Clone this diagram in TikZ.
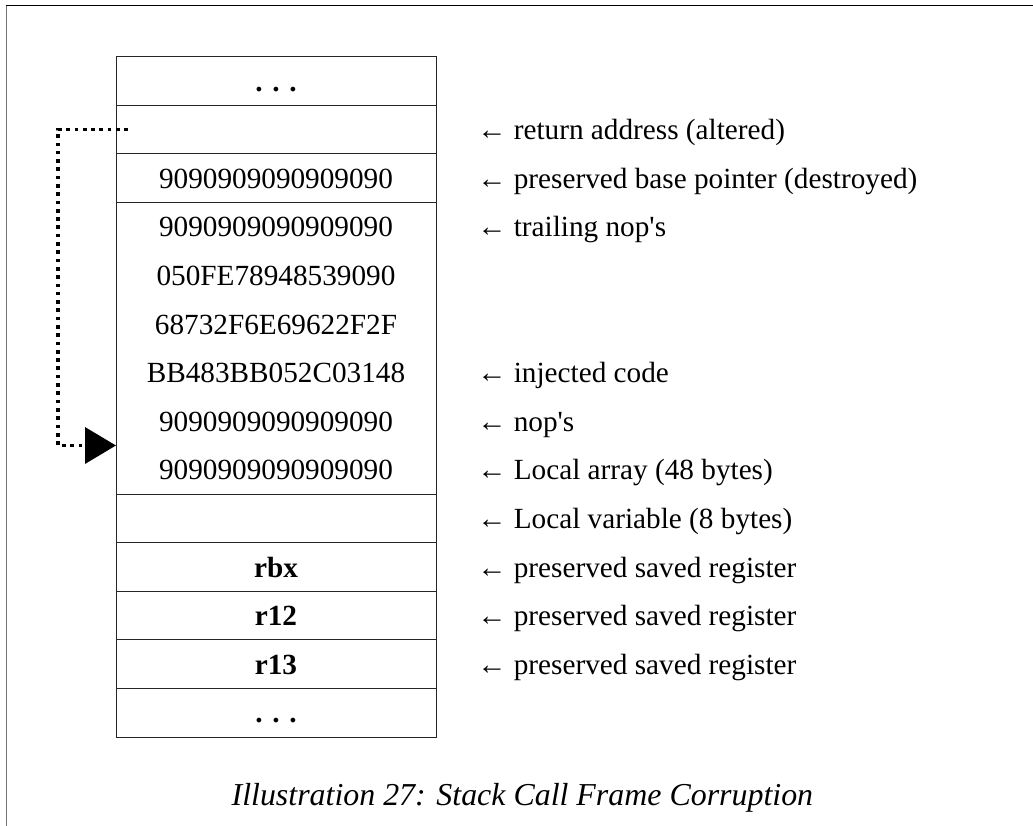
\documentclass[tikz,border=0pt]{standalone}
\usepackage{fontspec}
\setmainfont{Liberation Serif}
\usetikzlibrary{arrows.meta,positioning,fit,calc}

\begin{document}
\begin{tikzpicture}[every node/.style={font=\fontsize{20.8}{25}\selectfont},
    cell/.style={minimum width=8cm, minimum height=1.215cm, inner sep=0pt,
                 outer sep=0pt, text height=14.35pt, text depth=0pt},
    slot/.style={cell, draw=black!85, line width=0.6pt},
    note/.style={anchor=west, inner sep=0pt, text height=14.35pt, text depth=0pt}]

    \useasboundingbox (0,0) rectangle (25.825,-20.65);

    % ---- frame ----
    \draw[black!55, line width=0.7pt] (0.15,-20.65) -- (0.15,-0.125);
    \draw[black, line width=0.7pt] (0.15,-0.125) -- (25.825,-0.125);

    % ---- stack rows ----
    \node[slot] (top) at (6.9,-2.025) {\textbf{. . .}};
    \node[slot, below=0pt of top] (ret) {};
    \node[slot, below=0pt of ret] (rbp) {9090909090909090};
    \node[cell, below=0pt of rbp] (trail) {9090909090909090};
    \node[cell, below=0pt of trail] (hexa) {050FE78948539090};
    \node[cell, below=0pt of hexa] (hexb) {68732F6E69622F2F};
    \node[cell, below=0pt of hexb] (inj) {BB483BB052C03148};
    \node[cell, below=0pt of inj] (nop) {9090909090909090};
    \node[cell, below=0pt of nop] (arr) {9090909090909090};
    \node[draw=black!85, line width=0.6pt, fit=(trail)(arr), inner sep=0pt] (payload) {};
    \node[slot, below=0pt of arr] (lvar) {};
    \node[slot, below=0pt of lvar] (rbx) {\textbf{rbx}};
    \node[slot, below=0pt of rbx] (rtw) {\textbf{r12}};
    \node[slot, below=0pt of rtw] (rth) {\textbf{r13}};
    \node[slot, below=0pt of rth] (bottom) {\textbf{. . .}};

    % ---- labels ----
    \coordinate (labx) at (11.925,0);
    \node[note] (l-ret)   at (ret -| labx)   {← return address (altered)};
    \node[note] (l-rbp)   at (rbp -| labx)   {← preserved base pointer (destroyed)};
    \node[note] (l-trail) at (trail -| labx) {← trailing nop\textquotesingle s};
    \node[note] (l-inj)   at (inj -| labx)   {← injected code};
    \node[note] (l-nop)   at (nop -| labx)   {← nop\textquotesingle s};
    \node[note] (l-arr)   at (arr -| labx)   {← Local array (48 bytes)};
    \node[note] (l-lvar)  at (lvar -| labx)  {← Local variable (8 bytes)};
    \node[note] (l-rbx)   at (rbx -| labx)   {← preserved saved register};
    \node[note] (l-rtw)   at (rtw -| labx)   {← preserved saved register};
    \node[note] (l-rth)   at (rth -| labx)   {← preserved saved register};

    % ---- altered return jumps into the nop's ----
    \coordinate (jmp) at ($(ret.west)+(0.3,0)$);
    \coordinate (land) at (nop.south west);
    \draw[line width=2.6pt, dash pattern=on 2.6pt off 3.3pt,
          -{Triangle[length=0.775cm, width=0.9cm]}] (jmp) -- ++(-1.75,0) |- (land);

    % ---- caption ----
    \node[font=\fontsize{22.7}{27}\selectfont\itshape, anchor=base] (cap) at (13.06,-20.125)
      {Illustration 27: Stack Call Frame Corruption};

  \end{tikzpicture}
\end{document}
